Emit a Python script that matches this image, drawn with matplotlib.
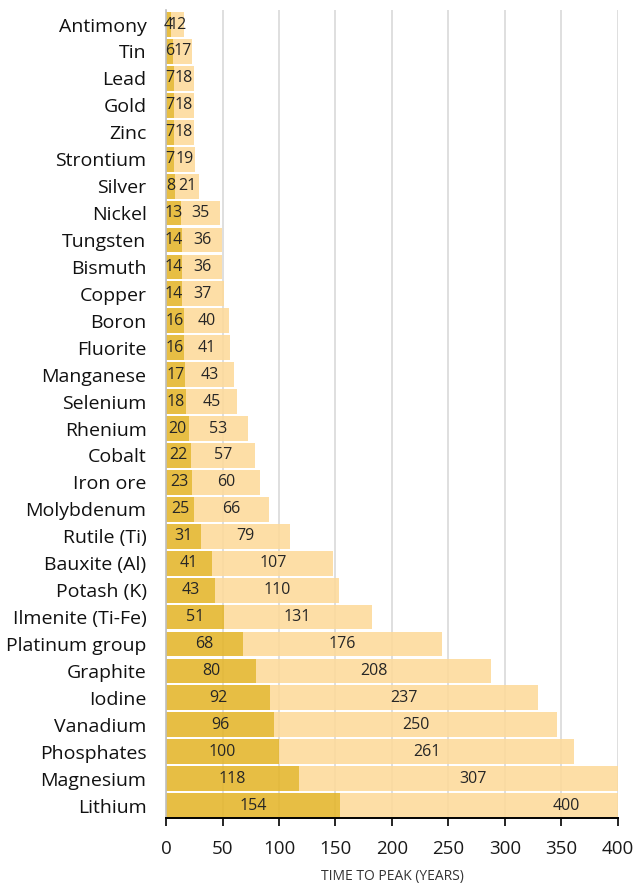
import numpy as np
import matplotlib

matplotlib.use("Agg")
import matplotlib.pyplot as plt

minerals = [
    "Antimony", "Tin", "Lead", "Gold", "Zinc", "Strontium", "Silver", "Nickel",
    "Tungsten", "Bismuth", "Copper", "Boron", "Fluorite", "Manganese", "Selenium",
    "Rhenium", "Cobalt", "Iron ore", "Molybdenum", "Rutile (Ti)", "Bauxite (Al)",
    "Potash (K)", "Ilmenite (Ti-Fe)", "Platinum group", "Graphite", "Iodine",
    "Vanadium", "Phosphates", "Magnesium", "Lithium",
]
early = [4, 6, 7, 7, 7, 7, 8, 13, 14, 14, 14, 16, 16, 17, 18, 20, 22, 23, 25, 31,
         41, 43, 51, 68, 80, 92, 96, 100, 118, 154]
late = [12, 17, 18, 18, 18, 19, 21, 35, 36, 36, 37, 40, 41, 43, 45, 53, 57, 60, 66,
        79, 107, 110, 131, 176, 208, 237, 250, 261, 307, 400]
x_ticks = [0, 50, 100, 150, 200, 250, 300, 350, 400]

plt.rcParams["font.family"] = ["Open Sans", "DejaVu Sans"]

fig = plt.figure(figsize=(6.36, 8.84), dpi=100)
ax = fig.add_axes([166 / 636, 1 - 818 / 884, 452 / 636, 808 / 884])

n = len(minerals)
y = np.arange(n)[::-1]
early_arr = np.array(early, dtype=float)
late_arr = np.array(late, dtype=float)
h = 0.92

ax.barh(y, early_arr, height=h, color="#E4B528", alpha=0.87, linewidth=0, zorder=2)
ax.barh(y, late_arr, left=early_arr, height=h, color="#FDDA99", alpha=0.87,
        linewidth=0, zorder=2)

for yi, e, l in zip(y, early_arr, late_arr):
    ax.text(e / 2, yi, f"{int(e)}", ha="center", va="center", fontsize=11.5,
            color="#262626", zorder=3)
    ax.text(e + l / 2, yi, f"{int(l)}", ha="center", va="center", fontsize=11.5,
            color="#262626", zorder=3, clip_on=True)

ax.set_xlim(0, 400)
ax.set_ylim(-h / 2, n - 1 + h / 2 + 0.08)
ax.set_xticks(x_ticks)
ax.set_xticklabels([str(t) for t in x_ticks], fontsize=13.5, color="#1a1a1a")
ax.set_yticks(y)
ax.set_yticklabels(minerals, fontsize=14, color="#111111")
ax.tick_params(axis="y", length=0, pad=14)
ax.tick_params(axis="x", length=6, width=1.2, color="#000000", pad=10, direction="out")

ax.grid(axis="x", color="#D9D9D9", linewidth=1.2, zorder=1)
ax.set_axisbelow(True)
for side in ["top", "right"]:
    ax.spines[side].set_visible(False)
ax.spines["left"].set_color("#BFBFBF")
ax.spines["left"].set_linewidth(1.2)
ax.spines["bottom"].set_color("#000000")
ax.spines["bottom"].set_linewidth(1.4)

ax.set_xlabel("TIME TO PEAK (YEARS)", fontsize=10, color="#333333", labelpad=8)

fig.savefig("out.png", dpi=100)
